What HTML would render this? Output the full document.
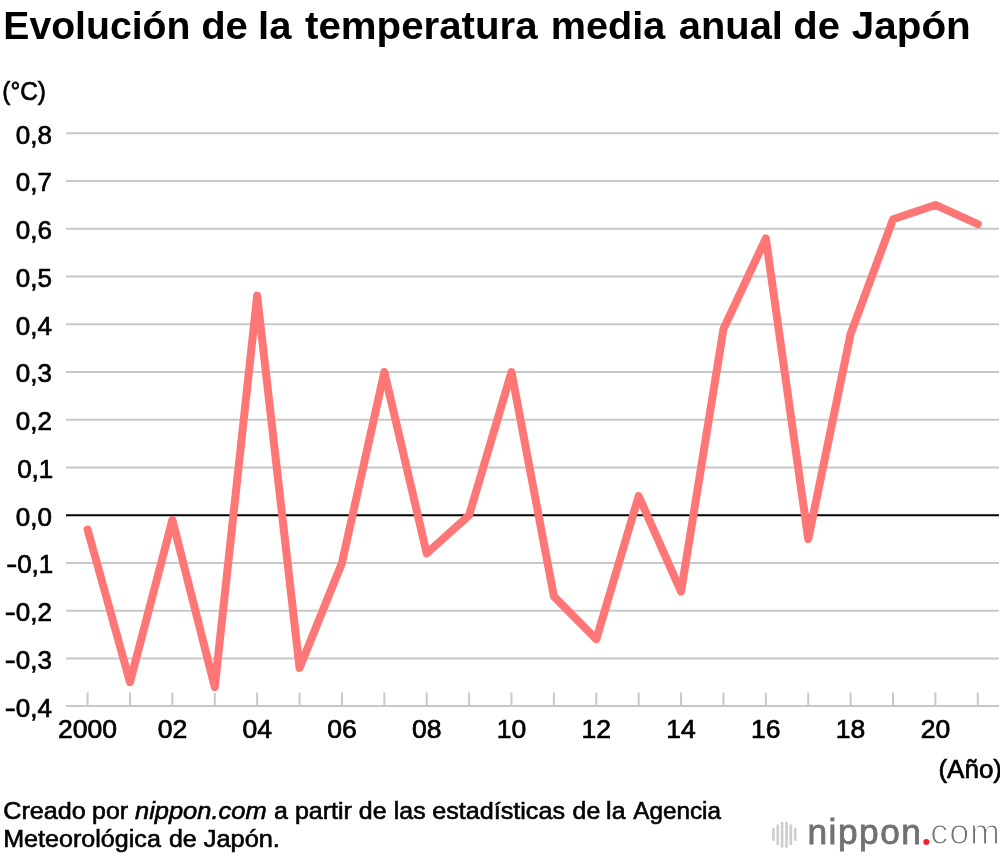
<!DOCTYPE html>
<html lang="es">
<head>
<meta charset="utf-8">
<title>Evolución de la temperatura media anual de Japón</title>
<style>
html,body{margin:0;padding:0;background:#fff;}
body{width:1000px;height:856px;overflow:hidden;font-family:"Liberation Sans",sans-serif;}
svg{display:block;}
text{font-family:"Liberation Sans",sans-serif;fill:#000;}
.title text{font-size:39.4px;font-weight:bold;}
.ax{font-size:26px;stroke:#000;stroke-width:0.7px;}
.ft text{font-size:24px;stroke:#000;stroke-width:0.6px;}
.it{font-style:italic;}
</style>
</head>
<body>
<svg width="1000" height="856" viewBox="0 0 1000 856">
<rect width="1000" height="856" fill="#fff"/>
<g class="title">
<text transform="translate(3.27,38.9) scale(0.9945,1)">Evolución </text>
<text transform="translate(201.14,38.9) scale(1.0158,1)">de </text>
<text transform="translate(258.09,38.9) scale(1.0158,1)">la </text>
<text transform="translate(304.99,38.9) scale(1.0220,1)">temperatura </text>
<text transform="translate(550.73,38.9) scale(1.0067,1)">media </text>
<text transform="translate(678.73,38.9) scale(1.0127,1)">anual </text>
<text transform="translate(793.26,38.9) scale(1.0158,1)">de </text>
<text transform="translate(851.73,38.9) scale(1.0262,1)">Japón</text>
</g>
<g class="ft">
<text transform="translate(3.25,818.6) scale(1.0481,1)">Creado </text>
<text transform="translate(92.08,818.6) scale(1.0377,1)">por </text>
<text class="it" transform="translate(135.00,818.6) scale(1.0609,1)">nippon.com </text>
<text transform="translate(274.10,818.6) scale(1.0377,1)">a </text>
<text transform="translate(294.95,818.6) scale(1.0423,1)">partir </text>
<text transform="translate(358.87,818.6) scale(1.0377,1)">de </text>
<text transform="translate(393.79,818.6) scale(1.0377,1)">las </text>
<text transform="translate(432.21,818.6) scale(1.0478,1)">estadísticas </text>
<text transform="translate(572.62,818.6) scale(1.0377,1)">de </text>
<text transform="translate(606.12,818.6) scale(1.0377,1)">la </text>
<text transform="translate(633.25,818.6) scale(1.0115,1)">Agencia</text>
</g>
<g class="ft">
<text transform="translate(3.17,846.9) scale(1.0469,1)">Meteorológica </text>
<text transform="translate(168.95,846.9) scale(1.0409,1)">de </text>
<text transform="translate(203.75,846.9) scale(1.0569,1)">Japón.</text>
</g>
<text class="ax" transform="translate(2.3,100) scale(0.94,1)">(°C)</text>
<g stroke="#c8c8c8" stroke-width="2" fill="none">
<line x1="66" y1="133.36" x2="999" y2="133.36"/>
<line x1="66" y1="181.09" x2="999" y2="181.09"/>
<line x1="66" y1="228.82" x2="999" y2="228.82"/>
<line x1="66" y1="276.55" x2="999" y2="276.55"/>
<line x1="66" y1="324.28" x2="999" y2="324.28"/>
<line x1="66" y1="372.01" x2="999" y2="372.01"/>
<line x1="66" y1="419.74" x2="999" y2="419.74"/>
<line x1="66" y1="467.47" x2="999" y2="467.47"/>
<line x1="66" y1="562.93" x2="999" y2="562.93"/>
<line x1="66" y1="610.66" x2="999" y2="610.66"/>
<line x1="66" y1="658.39" x2="999" y2="658.39"/>
<line x1="66" y1="706.12" x2="999" y2="706.12"/>
<line x1="87.60" y1="692.5" x2="87.60" y2="706.12"/>
<line x1="129.99" y1="692.5" x2="129.99" y2="706.12"/>
<line x1="172.38" y1="692.5" x2="172.38" y2="706.12"/>
<line x1="214.77" y1="692.5" x2="214.77" y2="706.12"/>
<line x1="257.16" y1="692.5" x2="257.16" y2="706.12"/>
<line x1="299.55" y1="692.5" x2="299.55" y2="706.12"/>
<line x1="341.94" y1="692.5" x2="341.94" y2="706.12"/>
<line x1="384.33" y1="692.5" x2="384.33" y2="706.12"/>
<line x1="426.72" y1="692.5" x2="426.72" y2="706.12"/>
<line x1="469.11" y1="692.5" x2="469.11" y2="706.12"/>
<line x1="511.50" y1="692.5" x2="511.50" y2="706.12"/>
<line x1="553.89" y1="692.5" x2="553.89" y2="706.12"/>
<line x1="596.28" y1="692.5" x2="596.28" y2="706.12"/>
<line x1="638.67" y1="692.5" x2="638.67" y2="706.12"/>
<line x1="681.06" y1="692.5" x2="681.06" y2="706.12"/>
<line x1="723.45" y1="692.5" x2="723.45" y2="706.12"/>
<line x1="765.84" y1="692.5" x2="765.84" y2="706.12"/>
<line x1="808.23" y1="692.5" x2="808.23" y2="706.12"/>
<line x1="850.62" y1="692.5" x2="850.62" y2="706.12"/>
<line x1="893.01" y1="692.5" x2="893.01" y2="706.12"/>
<line x1="935.40" y1="692.5" x2="935.40" y2="706.12"/>
<line x1="977.79" y1="692.5" x2="977.79" y2="706.12"/>
</g>
<line x1="66" y1="515.20" x2="999" y2="515.20" stroke="#000" stroke-width="2"/>
<g text-anchor="end">
<text class="ax" x="52.00" y="143.76">0,8</text>
<text class="ax" x="52.00" y="191.49">0,7</text>
<text class="ax" x="52.00" y="239.22">0,6</text>
<text class="ax" x="52.00" y="286.95">0,5</text>
<text class="ax" x="52.00" y="334.68">0,4</text>
<text class="ax" x="52.00" y="382.41">0,3</text>
<text class="ax" x="52.00" y="430.14">0,2</text>
<text class="ax" x="53.30" y="477.87">0,1</text>
<text class="ax" x="52.00" y="525.60">0,0</text>
<text class="ax" text-anchor="start" x="6.16" y="573.33"><tspan textLength="11" lengthAdjust="spacingAndGlyphs">-</tspan>0,1</text>
<text class="ax" text-anchor="start" x="4.86" y="621.06"><tspan textLength="11" lengthAdjust="spacingAndGlyphs">-</tspan>0,2</text>
<text class="ax" text-anchor="start" x="4.86" y="668.79"><tspan textLength="11" lengthAdjust="spacingAndGlyphs">-</tspan>0,3</text>
<text class="ax" text-anchor="start" x="4.86" y="716.52"><tspan textLength="11" lengthAdjust="spacingAndGlyphs">-</tspan>0,4</text>
</g>
<g text-anchor="middle">
<text class="ax" transform="translate(87.60,738) scale(1.02,1.02)">2000</text>
<text class="ax" transform="translate(172.38,738) scale(1.02,1.02)">02</text>
<text class="ax" transform="translate(257.16,738) scale(1.02,1.02)">04</text>
<text class="ax" transform="translate(341.94,738) scale(1.02,1.02)">06</text>
<text class="ax" transform="translate(426.72,738) scale(1.02,1.02)">08</text>
<text class="ax" transform="translate(511.50,738) scale(1.02,1.02)">10</text>
<text class="ax" transform="translate(596.28,738) scale(1.02,1.02)">12</text>
<text class="ax" transform="translate(681.06,738) scale(1.02,1.02)">14</text>
<text class="ax" transform="translate(765.84,738) scale(1.02,1.02)">16</text>
<text class="ax" transform="translate(850.62,738) scale(1.02,1.02)">18</text>
<text class="ax" transform="translate(935.40,738) scale(1.02,1.02)">20</text>
</g>
<text class="ax" text-anchor="end" x="1002" y="777.7">(Año)</text>
<polyline points="87.60,529.52 129.99,682.26 172.38,519.97 214.77,687.03 257.16,295.64 299.55,667.94 341.94,562.93 384.33,372.01 426.72,553.38 469.11,515.20 511.50,372.01 553.89,596.34 596.28,639.30 638.67,496.11 681.06,591.57 723.45,329.05 765.84,238.37 808.23,539.07 850.62,333.83 893.01,219.27 935.40,204.96 977.79,224.05" fill="none" stroke="#ff7676" stroke-width="8" stroke-linecap="round" stroke-linejoin="round"/>
<g id="logo">
<g stroke="#cfcfcf" stroke-width="2.7" stroke-linecap="round" fill="none">
<line x1="773.40" y1="829.10" x2="773.40" y2="839.70"/>
<line x1="777.76" y1="825.50" x2="777.76" y2="843.90"/>
<line x1="782.12" y1="823.10" x2="782.12" y2="846.60"/>
<line x1="786.48" y1="823.10" x2="786.48" y2="846.60"/>
<line x1="790.84" y1="825.50" x2="790.84" y2="843.90"/>
<line x1="795.20" y1="829.10" x2="795.20" y2="839.70"/>
</g>
<text transform="translate(807.42,844.4) scale(1.0200,1)" style="font-size:34.6px;letter-spacing:1.48px;fill:#717171;stroke:#717171;stroke-width:0.8px;">nippon</text>
<circle cx="926.3" cy="841.9" r="3" fill="#fa1e2d"/>
<text transform="translate(930.32,844.4) scale(1.0400,1)" style="font-size:34.6px;letter-spacing:0.86px;fill:#727272;stroke:#fff;stroke-width:1.2px;">com</text>
</g>

</svg>
</body>
</html>
